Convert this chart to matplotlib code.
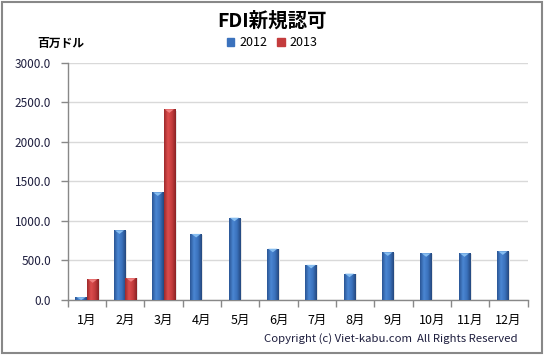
import numpy as np
import matplotlib
matplotlib.use("Agg")
import matplotlib.pyplot as plt
from matplotlib.colors import LinearSegmentedColormap
from matplotlib.patches import Polygon, Rectangle

plt.rcParams['font.family'] = ['Noto Sans CJK JP', 'DejaVu Sans']

months = ["1月", "2月", "3月", "4月", "5月", "6月", "7月", "8月", "9月", "10月", "11月", "12月"]
fdi_2012 = [35, 880, 1360, 835, 1040, 648, 444, 333, 602, 590, 590, 615]
fdi_2013 = [262, 275, 2410, np.nan, np.nan, np.nan, np.nan, np.nan, np.nan, np.nan, np.nan, np.nan]
yticks = [0, 500, 1000, 1500, 2000, 2500, 3000]

blue_cm = LinearSegmentedColormap.from_list("b", ["#2a5595", "#4a86d2", "#3b72bd", "#24487e"])
red_cm = LinearSegmentedColormap.from_list("r", ["#9e2a2c", "#dc4d4d", "#c43c3d", "#8a2224"])

fig = plt.figure(figsize=(5.44, 3.55), dpi=100)
ax = fig.add_axes([0.1245, 0.155, 0.8456, 0.6685])

x = np.arange(len(months))
w = 0.30
grad = np.linspace(0, 1, 64).reshape(1, -1)


def shaded_bars(xs, vals, cm, tip):
    bars = ax.bar(xs, vals, w, color=cm(0.5), linewidth=0, zorder=3)
    for b, v in zip(bars, vals):
        if np.isnan(v):
            continue
        x0, bw, h = b.get_x(), b.get_width(), b.get_height()
        # soft shadow on the right
        ax.add_patch(Rectangle((x0 + bw, 0), 0.04, h * 0.99, color="#e6e6e6", lw=0, zorder=2))
        im = ax.imshow(grad, cmap=cm, extent=(x0, x0 + bw, 0, h), aspect="auto", zorder=3)
        im.set_clip_path(b)
        th = min(45, h)
        ax.add_patch(Polygon([(x0 + bw * 0.1, h), (x0 + bw * 0.9, h), (x0 + bw / 2, h - th)],
                             closed=True, color=tip, lw=0, zorder=4))


shaded_bars(x - w / 2, fdi_2012, blue_cm, "#86bdf0")
shaded_bars(x + w / 2, fdi_2013, red_cm, "#f08080")

ax.set_xlim(-0.5, len(months) - 0.5)
ax.set_ylim(0, 3000)
ax.set_yticks(yticks)
ax.set_yticklabels(["%.1f" % t for t in yticks], fontsize=8.5, color="#1f1f3f")
ax.set_xticks(x)
ax.set_xticklabels(months, fontsize=9)
ax.set_xticks(np.arange(-0.5, len(months)), minor=True)
ax.tick_params(axis="x", which="major", length=0, pad=10)
ax.tick_params(axis="x", which="minor", length=5, color="#888888", width=1)
ax.tick_params(axis="y", length=5, color="#888888", width=1, pad=7)
ax.grid(axis="y", color="#d9d9d9", linewidth=1, zorder=0)
ax.set_axisbelow(True)
for s in ["top", "right"]:
    ax.spines[s].set_visible(False)
for s in ["left", "bottom"]:
    ax.spines[s].set_color("#888888")
    ax.spines[s].set_linewidth(1)

fig.text(0.5, 0.942, "FDI新規認可", ha="center", va="center", fontsize=14, fontweight="bold")
fig.text(0.068, 0.879, "百万ドル", ha="left", va="center", fontsize=8.5, fontweight="bold")

handles = [Rectangle((0, 0), 1, 1, color="#3b72bd"), Rectangle((0, 0), 1, 1, color="#c43c3d")]
fig.legend(handles, ["2012", "2013"], loc="center", bbox_to_anchor=(0.5, 0.879), ncol=2,
           frameon=False, fontsize=9, handlelength=0.6, handleheight=0.6,
           handletextpad=0.4, columnspacing=0.8, borderpad=0)

fig.text(0.952, 0.047, "Copyright (c) Viet-kabu.com  All Rights Reserved", ha="right", va="center",
         fontsize=8.2, color="#1f1f3f")

fig.patches.append(Rectangle((0.003, 0.005), 0.994, 0.99, transform=fig.transFigure,
                             fill=False, edgecolor="#888888", linewidth=1.5))

fig.savefig("out.png", dpi=100)
